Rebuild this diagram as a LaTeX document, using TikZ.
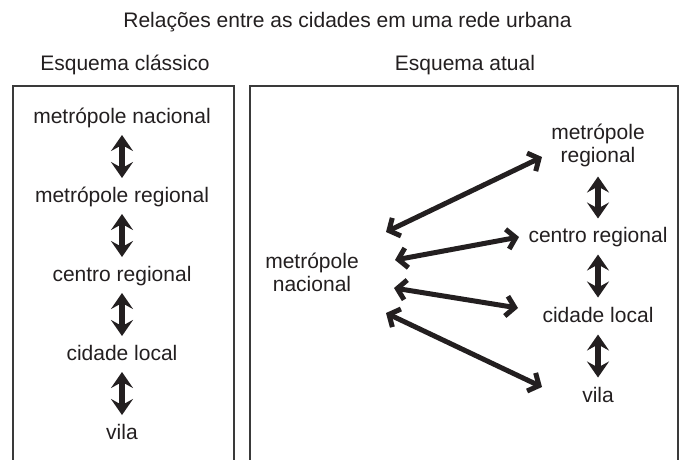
\documentclass[tikz,border=0pt]{standalone}
\usepackage{fontspec}
\setmainfont{Liberation Sans}
\usetikzlibrary{arrows.meta,calc}
\definecolor{txt}{HTML}{231F20}
\definecolor{boxc}{HTML}{3A3A3A}
\begin{document}
\begin{tikzpicture}[x=1pt,y=-1pt,
  lbl/.style={font=\fontsize{21}{23}\selectfont, text=txt, inner sep=0pt, align=center},
  varr/.style={draw=txt, line width=6.5pt,
    {Stealth[length=16pt,width=22pt,inset=6pt]}-{Stealth[length=16pt,width=22pt,inset=6pt]}},
  darr/.style={draw=txt, line width=5pt,
    {Straight Barb[length=8.5pt,width=20pt]}-{Straight Barb[length=8.5pt,width=20pt]}},
  frame/.style={draw=boxc, line width=1.3pt}]
\useasboundingbox (0,0) rectangle (682,459);
\clip (0,0) rectangle (682,459);
\fill[white] (0,0) rectangle (682,459);

% frames
\draw[frame] (13,470) -- (13,86) -- (234,86) -- (234,470);
\draw[frame] (250,470) -- (250,86) -- (678,86) -- (678,470);

% headings
\node[lbl, anchor=base] (title) at (347.5,27) {Relações entre as cidades em uma rede urbana};
\node[lbl, anchor=base] (hc) at (125,70) {Esquema clássico};
\node[lbl, anchor=base] (ha) at (465,70) {Esquema atual};

% left scheme
\node[lbl, anchor=base] (l1) at (122,123) {metrópole nacional};
\node[lbl, anchor=base] (l2) at (122,202) {metrópole regional};
\node[lbl, anchor=base] (l3) at (122,281) {centro regional};
\node[lbl, anchor=base] (l4) at (122,360) {cidade local};
\node[lbl, anchor=base] (l5) at (122,439) {vila};

\foreach \a/\b in {l1/l2,l2/l3,l3/l4,l4/l5}{
  \draw[varr] ($(\a.base)!0.5!(\b.base)+(0,-27.5)$) -- ($(\a.base)!0.5!(\b.base)+(0,15.5)$);
}

% right scheme
\node[lbl] (mn) at (312,272) {metrópole\\nacional};
\node[lbl] (rm) at (598,145) {metrópole\\regional};
\node[lbl, anchor=base] (cr) at (598,242) {centro regional};
\node[lbl, anchor=base] (cl) at (598,322) {cidade local};
\node[lbl, anchor=base] (vi) at (598,402) {vila};

\draw[varr] ($(cr.base)+(0,-65.5)$) -- ($(cr.base)+(0,-23.5)$);
\draw[varr] ($(cr.base)!0.5!(cl.base)+(0,-27.5)$) -- ($(cr.base)!0.5!(cl.base)+(0,15.5)$);
\draw[varr] ($(cl.base)!0.5!(vi.base)+(0,-27.5)$) -- ($(cl.base)!0.5!(vi.base)+(0,15.5)$);

\draw[darr] ($(mn.center)+(74,-40)$) -- ($(rm.center)+(-56,12)$);
\draw[darr] ($(mn.center)+(83,-12)$) -- ($(cr.base)+(-79,-5)$);
\draw[darr] ($(mn.center)+(82,16)$) -- ($(cl.base)+(-80,-14)$);
\draw[darr] ($(mn.center)+(74,41)$) -- ($(vi.base)+(-56,-15)$);
\end{tikzpicture}
\end{document}
